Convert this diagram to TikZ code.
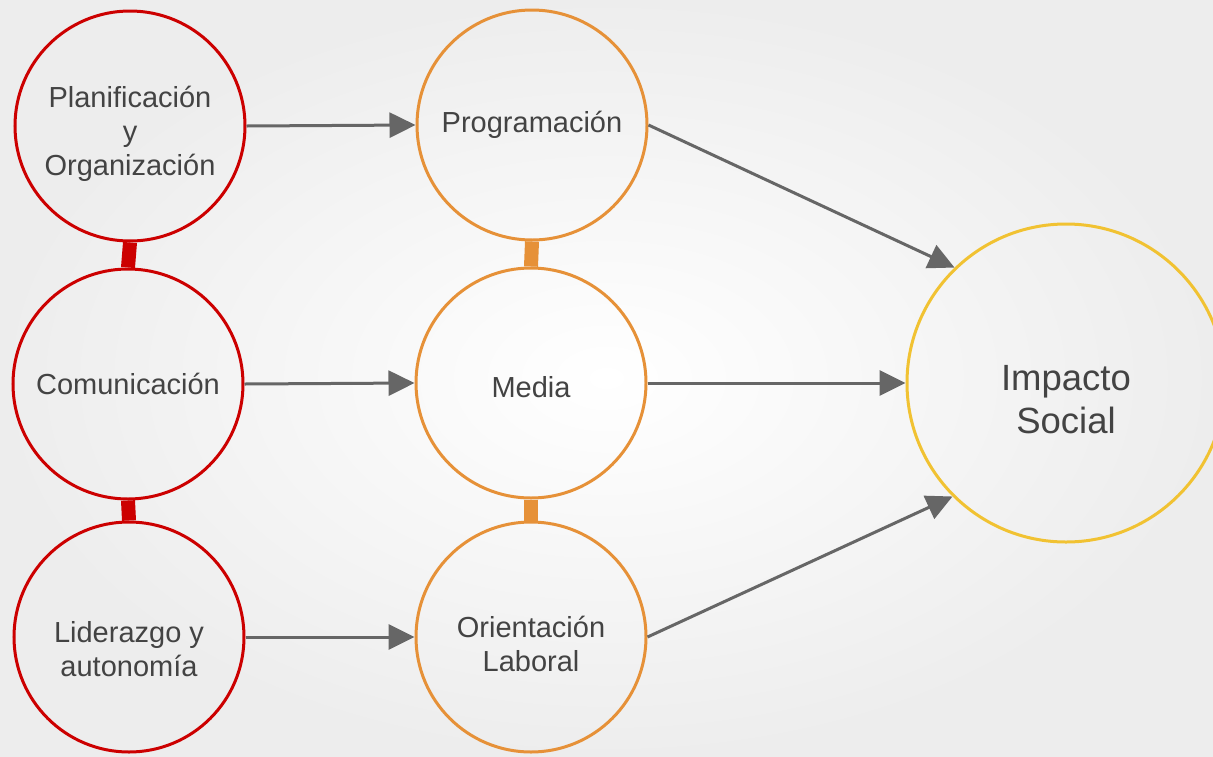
\documentclass[tikz,border=0pt]{standalone}
\usepackage{fontspec}
\setmainfont{Liberation Sans}
\usetikzlibrary{arrows.meta,shadings}
\definecolor{cred}{HTML}{CC0000}
\definecolor{corange}{HTML}{E69138}
\definecolor{cyellow}{HTML}{F1C232}
\definecolor{carrow}{HTML}{666666}
\definecolor{ctext}{HTML}{434343}
\tikzset{
  bubble/.style={circle, line width=3pt, minimum size=230pt, inner sep=0pt},
  redb/.style={bubble, draw=cred},
  orab/.style={bubble, draw=corange},
  bigb/.style={bubble, draw=cyellow, minimum size=318pt},
  txt/.style={align=center, text=ctext, font=\fontsize{29}{34}\selectfont, inner sep=0pt},
  bigtxt/.style={txt, font=\fontsize{36.5}{43}\selectfont},
  flow/.style={draw=carrow, line width=3pt, -{Triangle[length=26pt,width=25pt]}},
  redbar/.style={draw=cred, line width=14pt},
  orabar/.style={draw=corange, line width=14pt}
}
\begin{document}
\begin{tikzpicture}[x=1pt,y=-1pt]
\shade[inner color=white, outer color=black!7] (0,0) rectangle (1213,756);
\useasboundingbox (0,0) rectangle (1213,756);
\node[redb] (plan) at (130,126) {};
\node[redb] (com) at (128,384) {};
\node[redb] (lid) at (129,637) {};
\node[orab] (prog) at (532,125) {};
\node[orab] (media) at (531,383) {};
\node[orab] (ori) at (531,637) {};
\node[bigb] (imp) at (1066,383) {};
\node[txt] (planT) at ([yshift=-8pt]plan.center) {Planificación\\y\\Organización};
\node[txt] (comT) at (com.center) {Comunicación};
\node[txt] (lidT) at ([yshift=-12pt]lid.center) {Liderazgo y\\autonomía};
\node[txt] (progT) at (prog.center) {Programación};
\node[txt] (mediaT) at ([yshift=-4pt]media.center) {Media};
\node[txt] (oriT) at ([yshift=-7pt]ori.center) {Orientación\\Laboral};
\node[bigtxt] (impT) at ([yshift=-17pt]imp.center) {Impacto\\Social};
\draw[redbar] (plan.south) -- (com.north);
\draw[redbar] (com.south) -- (lid.north);
\draw[orabar] (prog.south) -- (media.north);
\draw[orabar] (media.south) -- (ori.north);
\draw[flow] (plan.east) -- (prog.west);
\draw[flow] (com.east) -- (media.west);
\draw[flow] (lid.east) -- (ori.west);
\draw[flow] (prog.east) -- (imp.134.5);
\draw[flow] (media.east) -- (imp.west);
\draw[flow] (ori.east) -- (imp.225);
\end{tikzpicture}
\end{document}
